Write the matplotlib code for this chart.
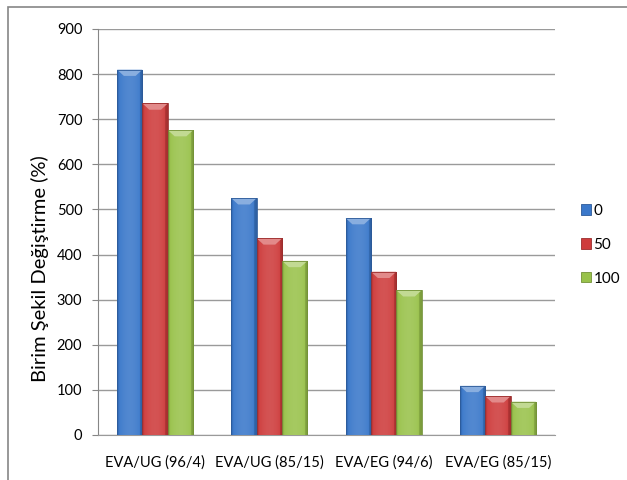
import numpy as np
import matplotlib.pyplot as plt
from matplotlib.patches import Rectangle, Polygon, Patch
from matplotlib.colors import to_rgb

plt.rcParams['font.family'] = ['Lato', 'DejaVu Sans']
plt.rcParams['image.composite_image'] = False

categories = ['EVA/UG (96/4)', 'EVA/UG (85/15)', 'EVA/EG (94/6)', 'EVA/EG (85/15)']
series_names = ['0', '50', '100']
vals_0 = [810, 525, 481, 109]
vals_50 = [735, 436, 362, 86]
vals_100 = [676, 386, 321, 74]
colors = ['#3A78CA', '#CE3C3C', '#99C24B']

series = [vals_0, vals_50, vals_100]


def shade(c, f):
    r = np.array(to_rgb(c))
    if f >= 0:
        return tuple(r + (1 - r) * f)
    return tuple(r * (1 + f))


fig = plt.figure(figsize=(6.27, 4.8), dpi=100)
ax = fig.add_axes([0.1563, 0.0938, 0.7289, 0.8458])

x = np.arange(len(categories))
width = 1 / 4.5
bev_h = 14
bev_w = 0.06

# horizontal shading profile across each bar
prof = np.linspace(0, 1, 64)
light = 0.12 * np.sin(np.pi * prof) - 0.2 * (prof > 0.9) - 0.1 * (prof < 0.07)

for i, (vals, col) in enumerate(zip(series, colors)):
    xs = x - width + i * width
    bars = ax.bar(xs, vals, width, color=col, edgecolor=shade(col, -0.25),
                  linewidth=0.6, zorder=3)
    for b, v in zip(bars, vals):
        x0 = b.get_x()
        img = np.array([[shade(col, f) for f in light]])
        im = ax.imshow(img, extent=(x0, x0 + width, 0, v), aspect='auto',
                       interpolation='bilinear', zorder=3.1)
        im.set_clip_path(b)
        top = Polygon([(x0, v), (x0 + width, v), (x0 + width - bev_w, v - bev_h),
                       (x0 + bev_w, v - bev_h)], closed=True,
                      facecolor=shade(col, 0.4), edgecolor='none', zorder=3.2)
        ax.add_patch(top)
        b.set_zorder(3.3)
        b.set_facecolor('none')

ax.set_xlim(-0.5, len(categories) - 0.5)
ax.set_ylim(0, 900)
ax.set_yticks(np.arange(0, 901, 100))
ax.set_xticks(x)
ax.set_xticklabels(categories, fontsize=10.5)
ax.tick_params(axis='y', labelsize=10.5, length=4.3, color='#868686', pad=7)
ax.tick_params(axis='x', length=0, pad=15)
ax.yaxis.grid(True, color='#9A9A9A', linewidth=1.0, zorder=0)
ax.set_axisbelow(True)
for s in ['top', 'right']:
    ax.spines[s].set_visible(False)
ax.spines['left'].set_color('#868686')
ax.spines['bottom'].set_color('#9A9A9A')
fig.text(40 / 627, 1 - 269 / 480, 'Birim Şekil Değiştirme (%)', fontsize=14.5,
         rotation=90, ha='center', va='center')

handles = [Patch(facecolor=c, edgecolor=shade(c, -0.25), linewidth=0.6)
           for c in colors]
leg = fig.legend(handles, series_names, loc='center left', bbox_to_anchor=(0.905, 0.49),
                 frameon=False, fontsize=11, handlelength=0.65, handleheight=0.65,
                 handletextpad=0.15, labelspacing=1.3)

fig.patches.append(Rectangle((8 / 627, -0.02), 1.1, 1 - 7 / 480 + 0.02,
                             transform=fig.transFigure, fill=False,
                             edgecolor='#868686', linewidth=1.2))

fig.savefig('out.png', dpi=100)
